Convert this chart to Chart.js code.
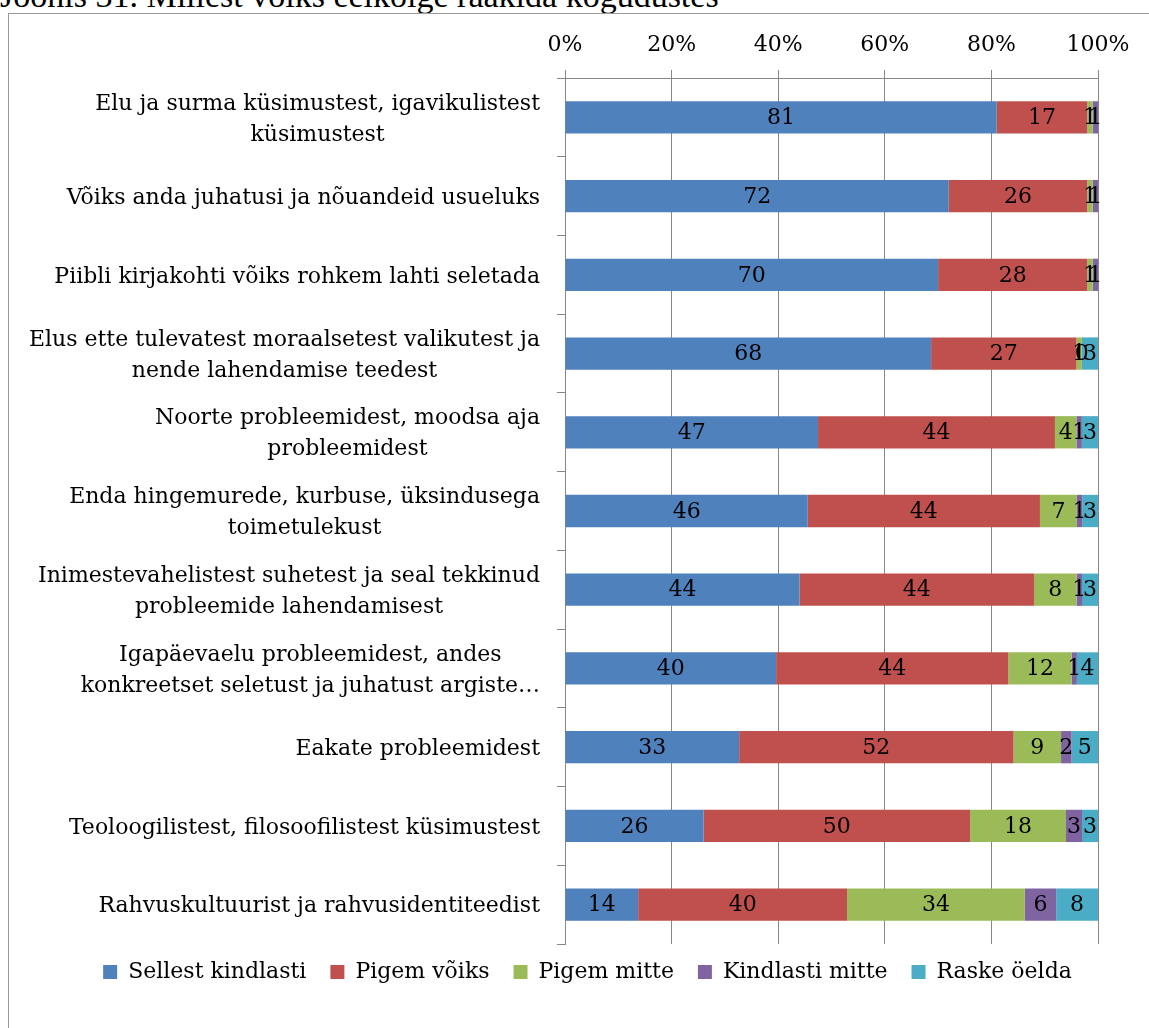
<!DOCTYPE html>
<html>
<head>
<meta charset="utf-8">
<script src="https://cdn.jsdelivr.net/npm/chart.js@4.4.1/dist/chart.umd.min.js"></script>
<style>
body { margin: 0; overflow: hidden; background: #fff; }
#title { position: absolute; left: 0; top: -23px; font-family: "Liberation Serif"; font-size: 34px; white-space: nowrap; color: #000; }
#frame { position: absolute; left: 8px; top: 13px; width: 1200px; height: 1100px; border: 1px solid #999; }
#chart { position: absolute; left: 8px; top: 13px; }
</style>
</head>
<body>
<div id="title">Joonis 31. Millest võiks eelkõige rääkida kogudustes</div>
<div id="frame"></div>
<canvas id="chart" width="1166" height="1015"></canvas>
<script>
let categories = [
    ["Elu ja surma küsimustest, igavikulistest", "küsimustest"],
    "Võiks anda juhatusi ja nõuandeid usueluks",
    "Piibli kirjakohti võiks rohkem lahti seletada",
    ["Elus ette tulevatest moraalsetest valikutest ja", "nende lahendamise teedest"],
    ["Noorte probleemidest, moodsa aja", "probleemidest"],
    ["Enda hingemurede, kurbuse, üksindusega", "toimetulekust"],
    ["Inimestevahelistest suhetest ja seal tekkinud", "probleemide lahendamisest"],
    ["Igapäevaelu probleemidest, andes", "konkreetset seletust ja juhatust argiste…"],
    "Eakate probleemidest",
    "Teoloogilistest, filosoofilistest küsimustest",
    "Rahvuskultuurist ja rahvusidentiteedist"
]

let seriesNames = ["Sellest kindlasti", "Pigem võiks", "Pigem mitte", "Kindlasti mitte", "Raske öelda"]

let sellestKindlasti = [81, 72, 70, 68, 47, 46, 44, 40, 33, 26, 14]
let pigemVoiks = [17, 26, 28, 27, 44, 44, 44, 44, 52, 50, 40]
let pigemMitte = [1, 1, 1, 1, 4, 7, 8, 12, 9, 18, 34]
let kindlastiMitte = [1, 1, 1, 0, 1, 1, 1, 1, 2, 3, 6]
let raskeOelda = [null, null, null, 3, 3, 3, 3, 4, 5, 3, 8]

let xTicks = [0, 20, 40, 60, 80, 100]

let colors = ['#4F81BD', '#C0504D', '#9BBB59', '#8064A2', '#4BACC6']

let font = 'DejaVu Serif'
let fontSize = 22
let gridColor = '#878787'

let allSeries = [sellestKindlasti, pigemVoiks, pigemMitte, kindlastiMitte, raskeOelda]

// 100% stacked: every row is scaled to its own total
let totals = categories.map((c, i) => allSeries.reduce((s, arr) => s + (arr[i] || 0), 0))

let datasets = allSeries.map((arr, k) => ({
    label: seriesNames[k],
    raw: arr,
    data: arr.map((v, i) => v === null ? null : v / totals[i] * 100),
    backgroundColor: colors[k],
    borderWidth: 0,
    barPercentage: 0.41,
    categoryPercentage: 1
}))

let barLabels = {
    id: 'barLabels',
    afterDatasetsDraw(chart) {
        let ctx = chart.ctx
        ctx.save()
        ctx.font = fontSize + 'px "' + font + '"'
        ctx.fillStyle = '#000'
        ctx.textAlign = 'center'
        ctx.textBaseline = 'middle'
        chart.data.datasets.forEach((ds, k) => {
            chart.getDatasetMeta(k).data.forEach((bar, i) => {
                let v = ds.raw[i]
                if (v === null) return
                ctx.fillText(String(v), (bar.x + bar.base) / 2, bar.y + 1)
            })
        })
        ctx.restore()
    }
}

let yLabels = {
    id: 'yLabels',
    afterDraw(chart) {
        let ctx = chart.ctx
        let yScale = chart.scales.y
        let right = chart.chartArea.left - 25
        ctx.save()
        ctx.font = fontSize + 'px "' + font + '"'
        ctx.fillStyle = '#000'
        ctx.textAlign = 'center'
        ctx.textBaseline = 'middle'
        categories.forEach((lab, i) => {
            let lines = Array.isArray(lab) ? lab : [lab]
            let w = Math.max(...lines.map(l => ctx.measureText(l).width))
            let cx = right - w / 2
            let yc = yScale.getPixelForTick(i) + 2
            lines.forEach((l, n) => {
                ctx.fillText(l, cx, yc + (n - (lines.length - 1) / 2) * 31)
            })
        })
        ctx.restore()
    }
}

let chart = new Chart(
    document.getElementById('chart'),
    {
        type: 'bar',
        data: {
            labels: categories,
            datasets: datasets
        },
        plugins: [barLabels, yLabels],
        options: {
            indexAxis: 'y',
            responsive: false,
            animation: false,
            layout: {
                padding: { top: 0, left: 0, right: 0, bottom: 35 }
            },
            scales: {
                x: {
                    type: 'linear',
                    position: 'top',
                    stacked: true,
                    min: 0,
                    max: 100,
                    afterBuildTicks: s => { s.ticks = xTicks.map(v => ({ value: v })) },
                    afterFit: s => { s.height = 65 },
                    ticks: {
                        callback: v => v + '%',
                        color: '#000',
                        padding: 12,
                        font: { family: font, size: fontSize }
                    },
                    grid: { color: gridColor, tickLength: 8 },
                    border: { color: gridColor }
                },
                y: {
                    stacked: true,
                    afterFit: s => { s.width = 557 },
                    ticks: { display: false },
                    grid: { drawOnChartArea: false, tickLength: 8, color: gridColor, offset: true },
                    border: { color: gridColor }
                },
                yRight: {
                    type: 'category',
                    position: 'right',
                    afterFit: s => { s.width = 76 },
                    ticks: { display: false },
                    grid: { display: false },
                    border: { display: false }
                }
            },
            plugins: {
                legend: {
                    position: 'bottom',
                    labels: {
                        boxWidth: 14,
                        boxHeight: 14,
                        padding: 17,
                        color: '#000',
                        font: { family: font, size: fontSize },
                        generateLabels: c => Chart.defaults.plugins.legend.labels.generateLabels(c).map(item => {
                            item.text = item.text + '\u00a0'
                            return item
                        })
                    }
                },
                tooltip: { enabled: false }
            }
        }
    }
)
</script>
</body>
</html>
